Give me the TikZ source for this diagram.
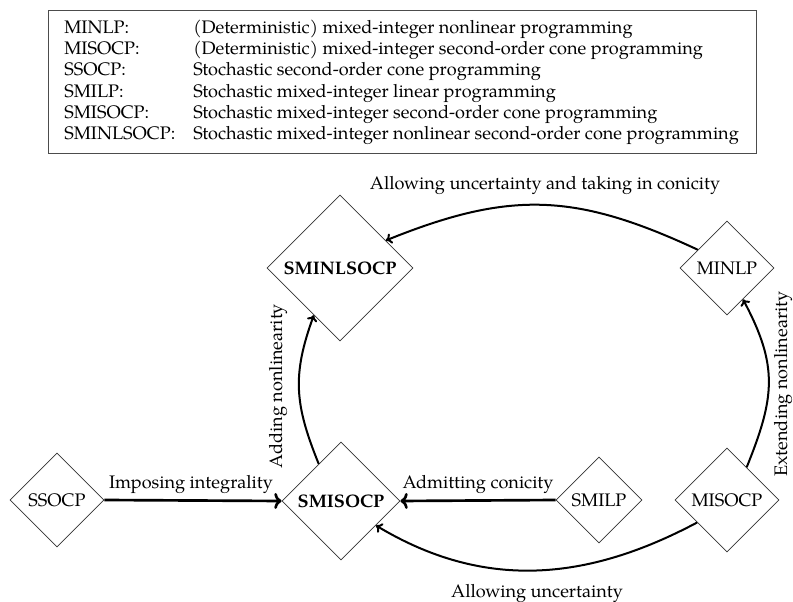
\documentclass[tikz,border=0pt]{standalone}
\usepackage{fontspec}
\setmainfont{TeX Gyre Pagella}
\usetikzlibrary{shapes.geometric,arrows.meta}
\begin{document}
\begin{tikzpicture}[x=0.75pt,y=-0.75pt,
  every node/.style={font=\fontsize{13.6}{16}\selectfont},
  dia/.style={draw=black!80, line width=0.6pt, diamond, aspect=1, inner sep=0.5pt},
  bigarrow/.style={line width=2pt, -{Computer Modern Rightarrow[length=5.5pt,width=12pt]}},
  curvearrow/.style={line width=1.5pt, -{Computer Modern Rightarrow[length=4.5pt,width=8pt]}},
  legtext/.style={anchor=base west, inner sep=0pt},
  elabel/.style={inner sep=0pt, anchor=base}
]
\useasboundingbox (0,0) rectangle (793,602);
% legend
\node[draw=black!70, line width=0.7pt, anchor=north west, inner sep=0pt,
      minimum width=708*0.75pt, minimum height=143*0.75pt] (legend) at (48,10) {};
\node[legtext] (l1a) at (64,33.3) {MINLP:};
\node[legtext] (l1b) at (193,33.3) {(Deterministic) mixed-integer nonlinear programming};
\node[legtext] (l2a) at (64,54.6) {MISOCP:};
\node[legtext] (l2b) at (193,54.6) {(Deterministic) mixed-integer second-order cone programming};
\node[legtext] (l3a) at (64,75.9) {SSOCP:};
\node[legtext] (l3b) at (193,75.9) {Stochastic second-order cone programming};
\node[legtext] (l4a) at (64,97.2) {SMILP:};
\node[legtext] (l4b) at (193,97.2) {Stochastic mixed-integer linear programming};
\node[legtext] (l5a) at (64,118.5) {SMISOCP:};
\node[legtext] (l5b) at (193,118.5) {Stochastic mixed-integer second-order cone programming};
\node[legtext] (l6a) at (64,139.8) {SMINLSOCP:};
\node[legtext] (l6b) at (193,139.8) {Stochastic mixed-integer nonlinear second-order cone programming};
% diamonds
\node[dia, minimum size=94*0.75pt] (ssocp) at (57,500) {SSOCP};
\node[dia, minimum size=118*0.75pt] (smisocp) at (341,501) {\bfseries SMISOCP};
\node[dia, minimum size=146*0.75pt] (sminlsocp) at (340,268) {\bfseries SMINLSOCP};
\node[dia, minimum size=94*0.75pt] (minlp) at (727,268) {MINLP};
\node[dia, minimum size=86*0.75pt] (smilp) at (599,500) {SMILP};
\node[dia, minimum size=104*0.75pt] (misocp) at (727,500) {MISOCP};
% connectors
\draw[bigarrow] (ssocp.east) -- (smisocp.west);
\draw[bigarrow] (smilp.west) -- (smisocp.east);
\draw[curvearrow] (misocp.217) to[out=208,in=-31,looseness=1.0] (smisocp.-35);
\draw[curvearrow] (smisocp.121) to[out=112,in=250,looseness=1.1] (sminlsocp.-119);
\draw[curvearrow] (misocp.59) to[out=68,in=-62,looseness=1.15] (minlp.-63);
\draw[curvearrow] (minlp.148) to[out=155,in=22,looseness=1.1] (sminlsocp.31);
% edge labels
\node[elabel] (t1) at (191,488) {Imposing integrality};
\node[elabel] (t2) at (478,488) {Admitting conicity};
\node[elabel] (t3) at (537,597) {Allowing uncertainty};
\node[elabel] (t4) at (545,190) {Allowing uncertainty and taking in conicity};
\node[inner sep=0pt, rotate=90] (t5) at (278,386) {Adding nonlinearity};
\node[inner sep=0pt, rotate=90] (t6) at (783,384) {Extending nonlinearity};
\end{tikzpicture}
\end{document}
